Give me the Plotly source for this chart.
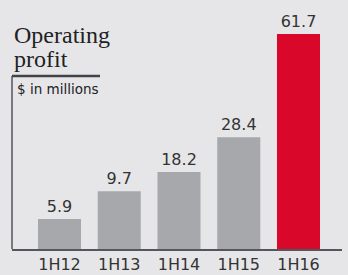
import plotly.graph_objects as go

categories = ["1H12", "1H13", "1H14", "1H15", "1H16"]
labels = ["5.9", "9.7", "18.2", "28.4", "61.7"]
# bar heights as drawn in the picture (scaled so the last bar equals 61.7)
heights = [8.6, 16.6, 22.1, 32.1, 61.7]
colors = ["#a7a8ac", "#a7a8ac", "#a7a8ac", "#a7a8ac", "#d9082a"]

BG = "#e6e6e8"
W, H = 348, 275
L, R, T, B = 12, 6, 10, 26
ph = H - T - B

def py(pix):
    return (H - B - pix) / ph

fig = go.Figure(go.Bar(
    x=categories, y=heights, marker=dict(color=colors, line=dict(width=0)),
    width=0.72, text=labels, textposition="outside",
    textfont=dict(family="DejaVu Sans", size=16, color="#333333"),
    cliponaxis=False,
))

fig.update_layout(
    width=W, height=H, margin=dict(l=L, r=R, t=T, b=B, autoexpand=False),
    paper_bgcolor=BG, plot_bgcolor=BG, showlegend=False,
    xaxis=dict(range=[-0.795, 4.728], showgrid=False, zeroline=False, automargin=False,
               showline=True, linecolor="#55565a", linewidth=1.5,
               tickfont=dict(family="DejaVu Sans", size=16, color="#333333"),
               ticks="", fixedrange=True),
    yaxis=dict(range=[0, 68.6], visible=False, fixedrange=True, automargin=False),
    shapes=[
        dict(type="line", xref="paper", yref="paper", x0=0, x1=0, y0=0, y1=py(76),
             line=dict(color="#55565a", width=1.5)),
        dict(type="line", xref="paper", yref="paper", x0=0, x1=88 / 330, y0=py(76), y1=py(76),
             line=dict(color="#444448", width=2.5)),
    ],
    annotations=[
        dict(text="Operating", xref="paper", yref="paper", x=0, y=py(35),
             xanchor="left", yanchor="middle", align="left", showarrow=False,
             font=dict(family="Liberation Serif, Times New Roman", size=24, color="#222222")),
        dict(text="profit", xref="paper", yref="paper", x=0, y=py(59),
             xanchor="left", yanchor="middle", align="left", showarrow=False,
             font=dict(family="Liberation Serif, Times New Roman", size=24, color="#222222")),
        dict(text="$ in millions", xref="paper", yref="paper", x=3 / 330, y=py(89),
             xanchor="left", yanchor="middle", showarrow=False,
             font=dict(family="DejaVu Sans", size=13.5, color="#222222")),
    ],
)

fig.write_html("out.html", config={"displayModeBar": False},
               post_script="document.body.style.margin='0';")
